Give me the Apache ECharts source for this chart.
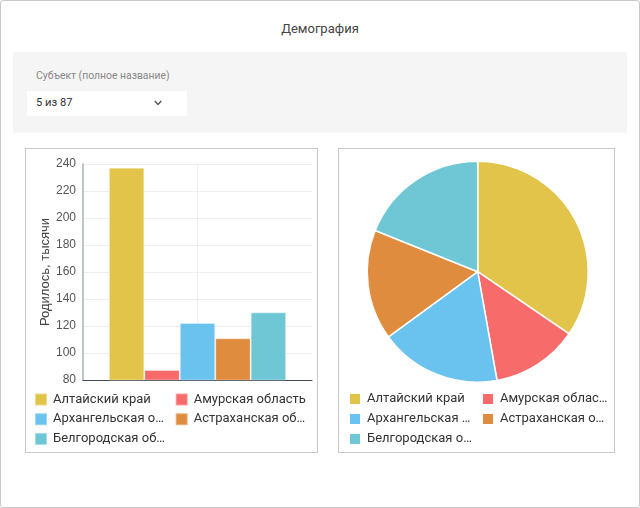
<!DOCTYPE html>
<html>
<head>
<meta charset="utf-8">
<script src="https://cdn.jsdelivr.net/npm/echarts@6/dist/echarts.min.js"></script>
<style>
  html, body { margin: 0; padding: 0; width: 640px; height: 508px; background: #fff; overflow: hidden; }
  #frame { position: absolute; left: 0; top: 0; width: 638px; height: 506px; border: 1px solid #c9c9c9; border-radius: 3px; }
  #title { position: absolute; left: 0; width: 640px; top: 21px; text-align: center; font-family: Roboto, sans-serif; font-size: 13px; color: #444; }
  #filter { position: absolute; left: 13px; top: 52px; width: 614px; height: 81px; background: #f5f5f5; }
  #flabel { position: absolute; left: 36px; top: 69px; font-family: Roboto, sans-serif; font-size: 10.4px; color: #888; }
  #select { position: absolute; left: 27px; top: 91px; width: 160px; height: 25px; background: #fff; }
  #seltext { position: absolute; left: 9px; top: 5px; font-family: Roboto, sans-serif; font-size: 11.2px; color: #333; }
  #chev { position: absolute; left: 127px; top: 9px; width: 8px; height: 6px; }
  .panel { position: absolute; top: 148px; height: 303px; border: 1px solid #c8c8c8; }
  #p1 { left: 25px; width: 291px; }
  #p2 { left: 338px; width: 275px; }
  .chart { position: absolute; left: 0; top: 0; width: 100%; height: 100%; }
</style>
</head>
<body>
<div id="frame"></div>
<div id="title">Демография</div>
<div id="filter"></div>
<div id="flabel">Субъект (полное название)</div>
<div id="select"><div id="seltext">5 из 87</div>
  <svg id="chev" viewBox="0 0 8 6"><path d="M0.8 1 L4 4.4 L7.2 1" fill="none" stroke="#555" stroke-width="1.5"/></svg>
</div>
<div class="panel" id="p1"><div class="chart" id="c1"></div></div>
<div class="panel" id="p2"><div class="chart" id="c2"></div></div>
<script>
const regions = ['Алтайский край', 'Амурская область', 'Архангельская область', 'Астраханская область', 'Белгородская область'];
const births = [237.3, 87.4, 122.2, 110.9, 130.1];
const colors = ['#E3C44A', '#F76B6B', '#6AC2EF', '#E08C3F', '#6FC7D6'];
const yTicks = { min: 80, max: 240, interval: 20 };
const yName = 'Родилось, тысячи';

const legendIcon = 'path://M0,0h12v12h-12z';
const ctx = document.createElement('canvas').getContext('2d');
ctx.font = '13px Roboto';
const ELL = '\u2026';
function fit(name, w) {
  if (ctx.measureText(name).width <= w) return name;
  let p = name;
  while (p.length > 0 && ctx.measureText(p + ELL).width > w) p = p.slice(0, -1);
  return p + ELL;
}

const c1 = echarts.init(document.getElementById('c1'));
c1.setOption({
  animation: false,
  color: colors,
  grid: { left: 57, top: 15, right: 5, bottom: 72, containLabel: false },
  legend: {
    data: regions,
    left: 8, top: 243, width: 280, padding: 0,
    orient: 'horizontal',
    icon: legendIcon,
    itemWidth: 14, itemHeight: 12, itemGap: 4.7,
    formatter: n => fit(n, 113),
    textStyle: { fontFamily: 'Roboto', fontSize: 13, color: '#333', width: 117, overflow: 'none', lineHeight: 15 }
  },
  xAxis: {
    type: 'category',
    data: [''],
    axisLine: { show: true, lineStyle: { color: '#454a5a', width: 1 } },
    axisTick: { show: false },
    axisLabel: { show: false },
    splitLine: { show: true, alignWithLabel: true, lineStyle: { color: '#eeeeee' } }
  },
  yAxis: {
    type: 'value',
    min: yTicks.min, max: yTicks.max, interval: yTicks.interval,
    name: yName,
    nameLocation: 'middle',
    nameGap: 31,
    nameMoveOverlap: false,
    nameTextStyle: { fontFamily: 'Liberation Sans, Arial', fontSize: 13, color: '#444' },
    axisLine: { show: true, lineStyle: { color: '#aab0bd', width: 1.5 } },
    axisTick: { show: false },
    axisLabel: { fontFamily: 'Liberation Sans, Arial', fontSize: 12, color: '#555', margin: 7 },
    splitLine: { show: true, lineStyle: { color: '#eeeeee' } }
  },
  series: regions.map((r, i) => ({
    name: r,
    type: 'bar',
    data: [births[i]],
    barGap: '0%',
    barCategoryGap: '22.6%',
    itemStyle: { color: colors[i], borderColor: 'rgba(255,255,255,0.35)', borderWidth: 1 }
  }))
});

const c2 = echarts.init(document.getElementById('c2'));
c2.setOption({
  animation: false,
  color: colors,
  legend: {
    data: regions,
    left: 9, top: 243, width: 265, padding: 0,
    orient: 'horizontal',
    icon: legendIcon,
    itemWidth: 14, itemHeight: 12, itemGap: 6,
    formatter: n => fit(n, 109),
    textStyle: { fontFamily: 'Roboto', fontSize: 13, color: '#333', width: 108, overflow: 'none', lineHeight: 13 }
  },
  series: [{
    type: 'pie',
    center: [138.7, 122.7],
    radius: 110.5,
    startAngle: 90,
    clockwise: true,
    label: { show: false },
    labelLine: { show: false },
    itemStyle: { borderColor: '#fff', borderWidth: 1.5 },
    data: regions.map((r, i) => ({ name: r, value: births[i] }))
  }]
});
</script>
</body>
</html>
